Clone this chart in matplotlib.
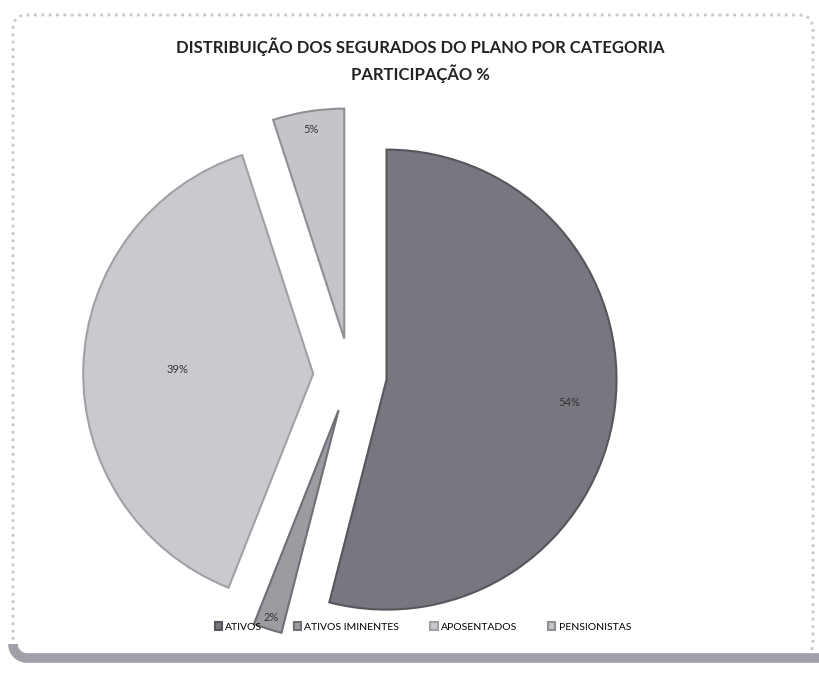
import numpy as np
import matplotlib.pyplot as plt
from matplotlib.patches import FancyBboxPatch

# dados do gráfico
categorias = ['ATIVOS', 'ATIVOS IMINENTES', 'APOSENTADOS', 'PENSIONISTAS']
participacao = [54, 2, 39, 5]
cores = ['#77777f', '#9b9ba1', '#cacace', '#c4c4c9']
bordas = ['#56565d', '#6f6f76', '#a0a0a6', '#8f8f95']
dist_rotulo = [0.80, 0.95, 0.59, 0.92]

titulo = 'DISTRIBUIÇÃO DOS SEGURADOS DO PLANO POR CATEGORIA\nPARTICIPAÇÃO %'

fig = plt.figure(figsize=(8.19, 6.75), dpi=100)
ax = fig.add_axes([0, 0, 1, 1])

raio = 230
# explode do pie é em unidades absolutas, por isso multiplica pelo raio
wedges, _ = ax.pie(participacao, startangle=90, counterclock=False,
                   explode=[0.16 * raio] * 4, radius=raio, center=(350, 300),
                   colors=cores, wedgeprops=dict(linewidth=1.5))
for w, b in zip(wedges, bordas):
    w.set_edgecolor(b)

# rótulos de porcentagem dentro das fatias
for w, v, d in zip(wedges, participacao, dist_rotulo):
    ang = np.deg2rad((w.theta1 + w.theta2) / 2)
    cx, cy = w.center
    ax.text(cx + d * raio * np.cos(ang), cy + d * raio * np.sin(ang),
            f'{v}%', ha='center', va='center', fontsize=8,
            color='#333333', family='Lato')

ax.set_xlim(0, 819)
ax.set_ylim(0, 675)
ax.set_aspect('auto')
ax.axis('off')

# moldura arredondada com sombra embaixo
moldura = FancyBboxPatch((13, 18), 800, 642,
                         boxstyle='round,pad=0,rounding_size=14',
                         fill=False, edgecolor='#c8c8c8', linestyle=':',
                         linewidth=2)
ax.add_patch(moldura)
t = np.linspace(np.pi, 1.5 * np.pi, 20)
xs = np.concatenate([27 + 14 * np.cos(t), [819]])
ys = np.concatenate([31 + 14 * np.sin(t), [17]])
ax.plot(xs, ys, color='#a0a0a8', linewidth=7, solid_capstyle='butt')

fig.text(0.513, 1 - 60 / 675, titulo, ha='center', va='center',
         fontsize=12, fontweight='bold', family='Lato', color='#222222',
         linespacing=1.5)

ax.legend(wedges, categorias, loc='center', bbox_to_anchor=(423 / 819, 1 - 627 / 675),
          ncol=4, frameon=False, handlelength=0.7,
          handleheight=0.7, columnspacing=3.0, handletextpad=0.3,
          prop=dict(family='Lato', size=7.5))

fig.savefig('out.png', dpi=100)
